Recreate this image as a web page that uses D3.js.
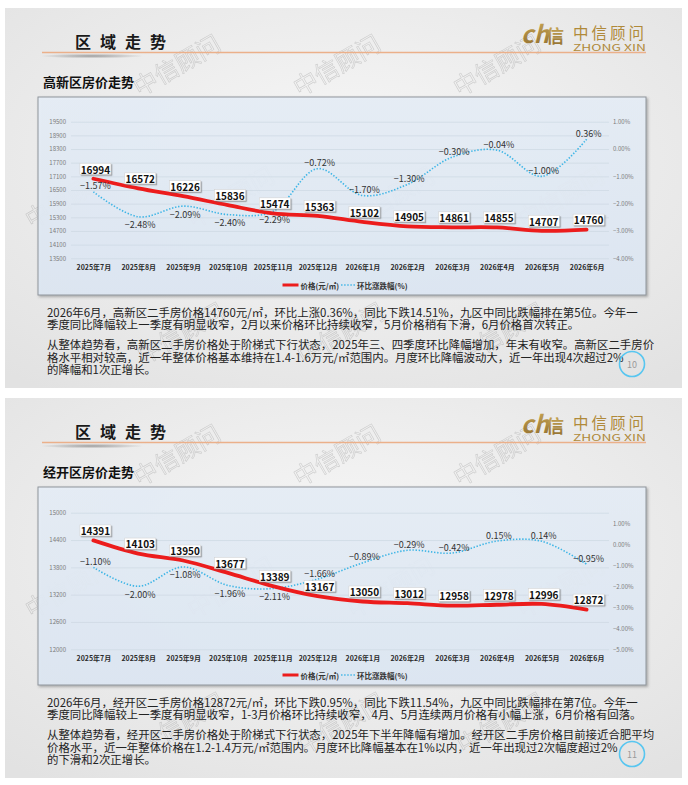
<!DOCTYPE html>
<html><head><meta charset="utf-8">
<script src="https://cdn.jsdelivr.net/npm/d3@7"></script>
<style>
body{margin:0;background:#fff}
svg{display:block}
text{font-family:"Noto Sans CJK SC","Noto Sans",sans-serif}
</style>
</head><body>
<svg id="c" width="688" height="785"></svg>
<script>
// ---------------- DATA ----------------
const months = ["2025年7月","2025年8月","2025年9月","2025年10月","2025年11月","2025年12月",
                "2026年1月","2026年2月","2026年3月","2026年4月","2026年5月","2026年6月"];

const gxPrice = [16994,16572,16226,15836,15474,15363,15102,14905,14861,14855,14707,14760];
const gxPct   = [-1.57,-2.48,-2.09,-2.40,-2.29,-0.72,-1.70,-1.30,-0.30,-0.04,-1.00,0.36];
const gxPriceTicks = [13500,14100,14700,15300,15900,16500,17100,17700,18300,18900,19500];
const gxPctTicks   = [-4,-3,-2,-1,0,1];

const jkPrice = [14391,14103,13950,13677,13389,13167,13050,13012,12958,12978,12996,12872];
const jkPct   = [-1.10,-2.00,-1.08,-1.96,-2.11,-1.66,-0.89,-0.29,-0.42,0.15,0.14,-0.95];
const jkPriceTicks = [12000,12600,13200,13800,14400,15000];
const jkPctTicks   = [-5,-4,-3,-2,-1,0,1];

const legendNames = ["价格(元/㎡)","环比涨跌幅(%)"];
const headerTitle = "区域走势";

const gxText = [
 ["2026年6月，高新区二手房价格14760元/㎡，环比上涨0.36%，同比下跌14.51%，九区中同比跌幅排在第5位。今年一",
  "季度同比降幅较上一季度有明显收窄，2月以来价格环比持续收窄，5月价格稍有下滑，6月价格首次转正。"],
 ["从整体趋势看，高新区二手房价格处于阶梯式下行状态，2025年三、四季度环比降幅增加，年末有收窄。高新区二手房价",
  "格水平相对较高，近一年整体价格基本维持在1.4-1.6万元/㎡范围内。月度环比降幅波动大，近一年出现4次超过2%",
  "的降幅和1次正增长。"]
];
const jkText = [
 ["2026年6月，经开区二手房价格12872元/㎡，环比下跌0.95%，同比下跌11.54%，九区中同比跌幅排在第7位。今年一",
  "季度同比降幅较上一季度有明显收窄，1-3月价格环比持续收窄，4月、5月连续两月价格有小幅上涨，6月价格有回落。"],
 ["从整体趋势看，经开区二手房价格处于阶梯式下行状态，2025年下半年降幅有增加。经开区二手房价格目前接近合肥平均",
  "价格水平，近一年整体价格在1.2-1.4万元/㎡范围内。月度环比降幅基本在1%以内，近一年出现过2次幅度超过2%",
  "的下滑和2次正增长。"]
];

// label placement (layout only): t = above point, b = below point
const pctLabelSide = ["t","b","b","b","b","t","t","t","t","t","t","t"];

const slides = [
  {dy:0,   sub:"高新区房价走势", price:gxPrice, pct:gxPct, pTicks:gxPriceTicks, rTicks:gxPctTicks,
   pDom:[13500,19500], rDom:[-4,1], yr:[258.3,121.7], text:gxText, page:"10"},
  {dy:390, sub:"经开区房价走势", price:jkPrice, pct:jkPct, pTicks:jkPriceTicks, rTicks:jkPctTicks,
   pDom:[12000,15000], rDom:[-5,1.5], yr:[259.3,122.7], text:jkText, page:"11"}
];

// ---------------- DRAW ----------------
const svg = d3.select("#c");
const defs = svg.append("defs");

const rg = defs.append("radialGradient").attr("id","slidebg").attr("cx","50%").attr("cy","40%").attr("r","75%");
rg.append("stop").attr("offset","0%").attr("stop-color","#f7f7f7");
rg.append("stop").attr("offset","100%").attr("stop-color","#e2e2e2");

const bx = defs.append("linearGradient").attr("id","boxbg").attr("x1",0).attr("y1",0).attr("x2",0).attr("y2",1);
bx.append("stop").attr("offset","0%").attr("stop-color","#e8f0f9");
bx.append("stop").attr("offset","100%").attr("stop-color","#dfe9f5");

const gold = defs.append("linearGradient").attr("id","gold").attr("x1",0).attr("y1",0).attr("x2",0).attr("y2",1);
gold.append("stop").attr("offset","0%").attr("stop-color","#cfae5c");
gold.append("stop").attr("offset","100%").attr("stop-color","#8f6c2c");

const sw = defs.append("radialGradient").attr("id","swoosh");
sw.append("stop").attr("offset","0%").attr("stop-color","#8a8a8a").attr("stop-opacity",0.8);
sw.append("stop").attr("offset","100%").attr("stop-color","#8a8a8a").attr("stop-opacity",0);

const sh = defs.append("filter").attr("id","shadow").attr("x","-5%").attr("y","-5%").attr("width","115%").attr("height","120%");
sh.append("feDropShadow").attr("dx",1.5).attr("dy",1.5).attr("stdDeviation",1).attr("flood-color","#555").attr("flood-opacity",0.45);
const sh2 = defs.append("filter").attr("id","lblshadow").attr("x","-20%").attr("y","-30%").attr("width","150%").attr("height","180%");
sh2.append("feDropShadow").attr("dx",1.2).attr("dy",1.2).attr("stdDeviation",0.6).attr("flood-color","#666").attr("flood-opacity",0.55);

const x = d3.scalePoint().domain(months).range([71,609]).padding(0.5);

let bodyFont = 11.4;

slides.forEach((s, si) => {
  const g = svg.append("g").attr("transform",`translate(0,${s.dy})`);

  g.append("rect").attr("x",5).attr("y",8).attr("width",677).attr("height",380).attr("fill","url(#slidebg)");

  // watermarks (faint, behind content)
  const wm = g.append("g");
  const rows = [[64,[176,336,496]],[196,[68,230,390,560]],[332,[180,340,500]]];
  rows.forEach(([yy, xs]) => xs.forEach(xx => {
    wm.append("text").attr("transform",`translate(${xx},${yy}) rotate(-30)`)
      .attr("text-anchor","middle").attr("dominant-baseline","central")
      .attr("font-size",24).attr("fill","none").attr("stroke","#a8a8a8").attr("stroke-width",0.6)
      .attr("opacity",0.5).text("中信顾问");
  }));

  // header
  g.append("ellipse").attr("cx",92).attr("cy",56).attr("rx",52).attr("ry",2.4).attr("fill","url(#swoosh)");
  g.append("line").attr("x1",42).attr("x2",646).attr("y1",52.5).attr("y2",52.5)
    .attr("stroke","#ebb08a").attr("stroke-width",1.3);
  g.append("text").attr("x",75).attr("y",47.5).attr("font-size",16).attr("font-weight",700)
    .attr("letter-spacing",9).attr("fill","#1a1a1a").text(headerTitle);

  // logo
  g.append("text").attr("x",521).attr("y",43).attr("font-size",24).attr("font-style","italic").attr("font-weight",700)
    .attr("font-family","Liberation Serif").attr("fill","url(#gold)").text("ch");
  g.append("text").attr("x",546).attr("y",43).attr("font-size",18).attr("font-weight",700)
    .attr("fill","url(#gold)").text("信");
  g.append("text").attr("x",573).attr("y",38.5).attr("font-size",15.5).attr("letter-spacing",3)
    .attr("fill","#b08a3a").text("中信顾问");
  g.append("text").attr("x",573).attr("y",51.3).attr("font-size",8.5).attr("font-family","Liberation Sans")
    .attr("textLength",73).attr("lengthAdjust","spacingAndGlyphs").attr("fill","#b08a3a").text("ZHONG XIN");

  // subtitle
  g.append("text").attr("x",43).attr("y",86.5).attr("font-size",13).attr("font-weight",700)
    .attr("fill","#111").text(s.sub);

  // chart box (slightly translucent so the watermark shows faintly)
  g.append("rect").attr("x",38).attr("y",97).attr("width",608).attr("height",198)
    .attr("fill","url(#boxbg)").attr("fill-opacity",0.9).attr("stroke","#8f959b").attr("stroke-width",1).attr("filter","url(#shadow)");

  const yL = d3.scaleLinear().domain(s.pDom).range(s.yr);
  const yR = d3.scaleLinear().domain(s.rDom).range(s.yr);

  const ax = g.append("g").attr("transform","translate(71,0)")
    .call(d3.axisLeft(yL).tickValues(s.pTicks).tickSize(-538).tickPadding(5).tickFormat(d3.format("d")));
  ax.select(".domain").remove();
  ax.selectAll("line").attr("stroke","#cdd8e3").attr("stroke-width",0.7);
  ax.selectAll("text").attr("font-size",6).attr("fill","#7a7a7a").attr("font-family","Liberation Sans");

  const ar = g.append("g").attr("transform","translate(609,0)")
    .call(d3.axisRight(yR).tickValues(s.rTicks).tickSize(0).tickPadding(4).tickFormat(d => d3.format(".2f")(d)+"%"));
  ar.select(".domain").remove();
  ar.selectAll("text").attr("font-size",6).attr("fill","#7a7a7a").attr("font-family","Liberation Sans");

  const ab = g.append("g").attr("transform",`translate(0,${s.yr[0]})`)
    .call(d3.axisBottom(x).tickSize(0).tickPadding(6.5));
  ab.select(".domain").remove();
  ab.selectAll("text").attr("font-size",7).attr("font-weight",700).attr("fill","#2a2a2a");

  const idx = d3.range(months.length);
  const priceLine = d3.line().x(i => x(months[i])).y(i => yL(s.price[i])).curve(d3.curveCatmullRom.alpha(0.5));
  const pctLine = d3.line().x(i => x(months[i])).y(i => yR(s.pct[i])).curve(d3.curveCatmullRom.alpha(0.5));

  g.append("path").attr("d",pctLine(idx)).attr("fill","none").attr("stroke","#3db5e6")
    .attr("stroke-width",1.6).attr("stroke-dasharray","1.4 1.7");
  g.append("path").attr("d",priceLine(idx)).attr("fill","none").attr("stroke","#ec1c1c")
    .attr("stroke-width",3.8).attr("stroke-linecap","round");

  // pct labels
  g.selectAll(".pl").data(idx).join("text")
    .attr("x", i => x(months[i]) + 2)
    .attr("y", i => yR(s.pct[i]) + (pctLabelSide[i]==="t" ? -6 : 8))
    .attr("dominant-baseline","central").attr("text-anchor","middle")
    .attr("font-size",9).attr("fill","#333")
    .text(i => d3.format(".2f")(s.pct[i])+"%");

  // price labels
  const pl = g.selectAll(".pr").data(idx).join("g")
    .attr("transform", i => `translate(${x(months[i])+2},${yL(s.price[i])-10})`);
  pl.append("rect").attr("x",-15.5).attr("y",-5.5).attr("width",31).attr("height",11)
    .attr("fill","#fff").attr("stroke","#d0d0d0").attr("stroke-width",0.5).attr("filter","url(#lblshadow)");
  pl.append("text").attr("text-anchor","middle").attr("dominant-baseline","central").attr("y",0.3)
    .attr("font-size",10).attr("font-weight",700).attr("fill","#111")
    .text(i => s.price[i]);

  // legend
  const lg = g.append("g").attr("transform","translate(0,285)");
  const t1 = lg.append("text").attr("font-size",7.5).attr("font-weight",700).attr("fill","#333")
    .attr("dominant-baseline","central").text(legendNames[0]);
  const t2 = lg.append("text").attr("font-size",7.5).attr("font-weight",700).attr("fill","#333")
    .attr("dominant-baseline","central").text(legendNames[1]);
  const w1 = t1.node().getComputedTextLength(), w2 = t2.node().getComputedTextLength();
  const total = 16 + 2 + w1 + 2 + 14 + 2 + w2;
  let lx = 345 - total/2;
  lg.append("line").attr("x1",lx).attr("x2",lx+16).attr("stroke","#ec1c1c").attr("stroke-width",3);
  lx += 18; t1.attr("x",lx); lx += w1 + 2;
  lg.append("line").attr("x1",lx).attr("x2",lx+14).attr("stroke","#3db5e6").attr("stroke-width",1.5).attr("stroke-dasharray","1.4 1.7");
  lx += 16; t2.attr("x",lx);

  // paragraphs
  const lineY = [[311.5,324],[344,356.5,369]];
  const tg = g.append("g");
  s.text.forEach((para, pi) => {
    para.forEach((ln, li) => {
      tg.append("text").attr("class","body").attr("x",47).attr("y",lineY[pi][li])
        .attr("dominant-baseline","central").attr("fill","#222").attr("font-size",bodyFont).text(ln);
    });
  });
  if (si === 0) {
    const first = tg.select("text.body").node();
    const w = first.getComputedTextLength();
    bodyFont = bodyFont * 591 / w;
  }
  tg.selectAll("text.body").attr("font-size",bodyFont);

  // page number
  g.append("circle").attr("cx",632).attr("cy",364).attr("r",12.5).attr("fill","none")
    .attr("stroke","#58c6f0").attr("stroke-width",1.6);
  g.append("text").attr("x",632).attr("y",364.5).attr("text-anchor","middle").attr("dominant-baseline","central")
    .attr("font-size",9).attr("fill","#9a9a9a").text(s.page);
});
</script>
</body></html>
